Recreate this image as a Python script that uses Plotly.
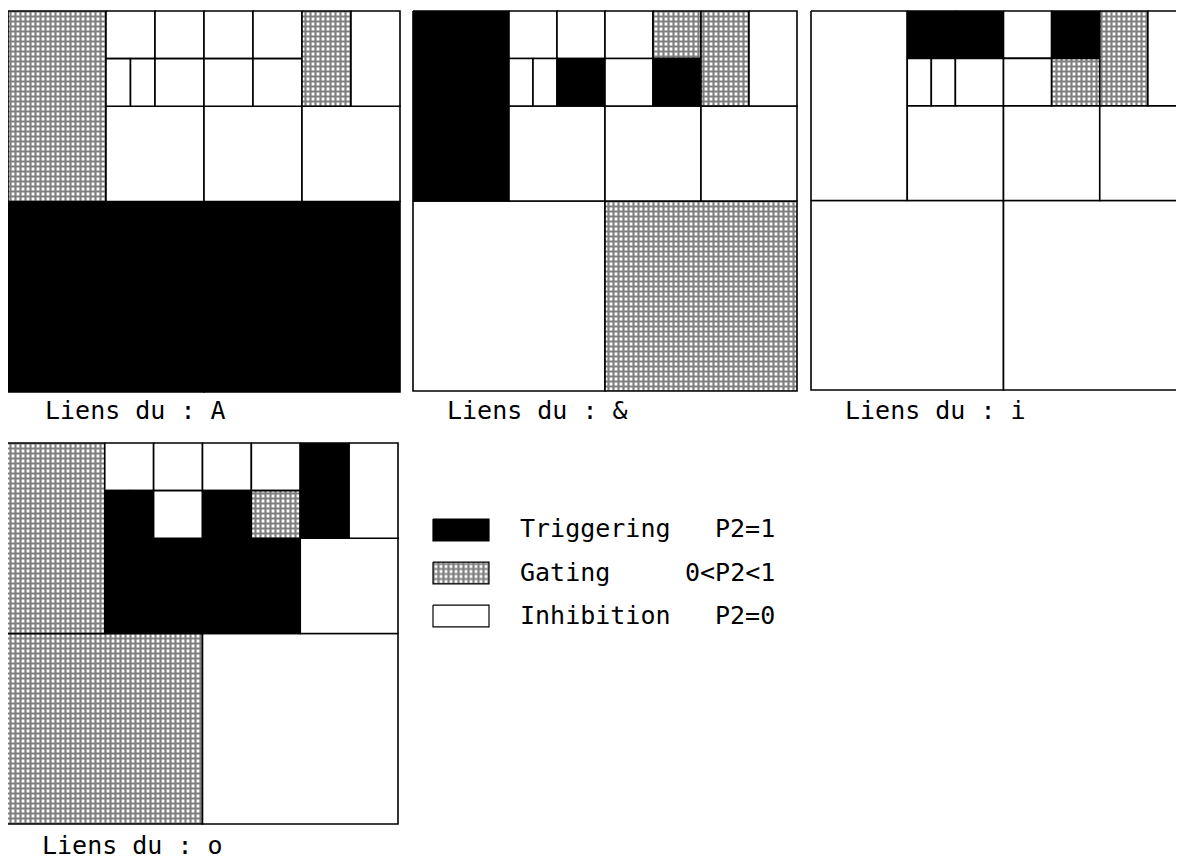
import plotly.graph_objects as go

# page is drawn with the browser's 8px body margin, so the figure is shrunk by it
OFF = 8
W, H = 1184 - OFF, 860 - OFF

# Cells of the subdivision shared by the four panels (grid units 0-8, y pointing down)
cell_x0 = [0, 4, 0, 2, 4, 6, 2, 3, 4, 5, 2, 2.5, 3, 4, 5, 6, 7]
cell_x1 = [4, 8, 2, 4, 6, 8, 3, 4, 5, 6, 2.5, 3, 4, 5, 6, 7, 8]
cell_y0 = [4, 4, 0, 2, 2, 2, 0, 0, 0, 0, 1, 1, 1, 1, 1, 0, 0]
cell_y1 = [8, 8, 4, 4, 4, 4, 1, 1, 1, 1, 2, 2, 2, 2, 2, 2, 2]

# T = triggering (P2=1), G = gating (0<P2<1), I = inhibition (P2=0)
kinds_A = ['T', 'T', 'G', 'I', 'I', 'I', 'I', 'I', 'I', 'I', 'I', 'I', 'I', 'I', 'I', 'G', 'I']
kinds_amp = ['I', 'G', 'T', 'I', 'I', 'I', 'I', 'I', 'I', 'G', 'I', 'I', 'T', 'I', 'T', 'G', 'I']
kinds_i = ['I', 'I', 'I', 'I', 'I', 'I', 'T', 'T', 'I', 'T', 'I', 'I', 'I', 'I', 'G', 'G', 'I']
kinds_o = ['G', 'I', 'G', 'T', 'T', 'I', 'I', 'I', 'I', 'I', 'T', 'T', 'I', 'T', 'G', 'T', 'I']

panel_names = ['A', '&', 'i', 'o']
panel_kinds = [kinds_A, kinds_amp, kinds_i, kinds_o]

legend_kinds = ['T', 'G', 'I']
legend_names = ['Triggering', 'Gating', 'Inhibition']
legend_ranges = ['P2=1', '0<P2<1', 'P2=0']

# pixel boxes (left, right, top, bottom) of each panel and its caption position,
# in window pixels
panel_boxes = [(8, 400, 11, 392), (413, 797, 11, 391), (811, 1196, 11, 390), (7, 398, 443, 824)]
caption_pos = [(43, 410), (445, 410), (843, 410), (40, 845)]

FONT = 'DejaVu Sans Mono'
PAD = 2

fig = go.Figure()


def px(x):
    return (x - OFF) / W


def py(y):
    return 1 - (y - OFF) / H


def place_axis(n, box, xspan, yspan):
    """Put axis pair n on the window pixel box, with grid units xspan x yspan."""
    left, right, top, bottom = [v - OFF for v in box]
    ux = xspan / (right - left)
    uy = yspan / (bottom - top)
    x_lo, x_hi = max(left - PAD, 0), min(right + PAD, W)
    y_lo, y_hi = max(top - PAD, 0), min(bottom + PAD, H)
    sfx = '' if n == 1 else str(n)
    fig.layout['xaxis' + sfx] = dict(
        domain=[x_lo / W, x_hi / W],
        range=[(x_lo - left) * ux, (x_hi - left) * ux],
        visible=False, fixedrange=True, anchor='y' + sfx)
    fig.layout['yaxis' + sfx] = dict(
        domain=[1 - y_hi / H, 1 - y_lo / H],
        range=[(y_hi - top) * uy, (y_lo - top) * uy],
        visible=False, fixedrange=True, anchor='x' + sfx)
    return 'x' + sfx, 'y' + sfx


def add_rect(x0, x1, y0, y1, kind, xa, ya, lw=1.6):
    extra = {}
    if kind == 'T':
        fill = 'black'
    elif kind == 'G':
        fill = 'white'
        extra['fillpattern'] = dict(shape='+', size=5, solidity=0.68,
                                    fgcolor='black', bgcolor='white')
    else:
        fill = 'white'
    fig.add_trace(go.Scatter(
        x=[x0, x1, x1, x0, x0], y=[y0, y0, y1, y1, y0],
        mode='lines', fill='toself', fillcolor=fill,
        line=dict(color='black', width=lw),
        xaxis=xa, yaxis=ya, hoverinfo='skip', showlegend=False, **extra))


def add_text(text, x, y, anchor='left'):
    fig.add_annotation(text=text, x=px(x), y=py(y), xref='paper', yref='paper',
                       xanchor=anchor, yanchor='middle', showarrow=False,
                       font=dict(family=FONT, size=25, color='black'))


# The four panels
for n, (name, kinds, box, cap) in enumerate(zip(panel_names, panel_kinds, panel_boxes, caption_pos), start=1):
    xa, ya = place_axis(n, box, 8, 8)
    for x0, x1, y0, y1, k in zip(cell_x0, cell_x1, cell_y0, cell_y1, kinds):
        add_rect(x0, x1, y0, y1, k, xa, ya)
    add_text('Liens du : ' + name, cap[0], cap[1])

# Hand-made legend
xa, ya = place_axis(5, (433, 489, 508.5, 637.5), 1, 3)
for i, k in enumerate(legend_kinds):
    add_rect(0, 1, i + 0.245, i + 0.755, k, xa, ya, lw=1.2)
row_y = [528, 572, 615]
for i in range(len(legend_kinds)):
    add_text(legend_names[i], 518, row_y[i])
    add_text(legend_ranges[i], 777, row_y[i], anchor='right')

fig.update_layout(
    width=W, height=H,
    margin=dict(l=0, r=0, t=0, b=0),
    paper_bgcolor='white', plot_bgcolor='white',
    showlegend=False,
)

fig.write_html('out.html')
